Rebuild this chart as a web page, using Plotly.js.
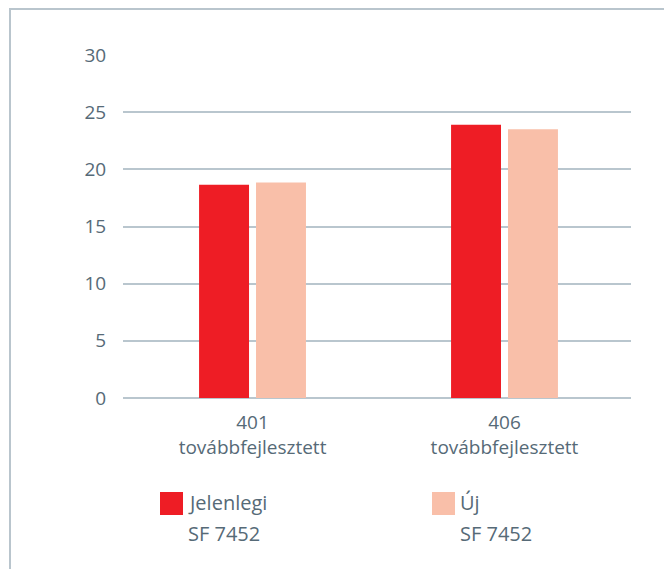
<!DOCTYPE html>
<html>
<head>
<meta charset="utf-8">
<script src="https://cdn.plot.ly/plotly-3.0.1.min.js"></script>
<style>
html,body{margin:0;padding:0;background:#fff;}
#wrap{position:relative;width:664px;height:569px;}
#chart{position:absolute;left:0;top:0;width:664px;height:569px;}
#frame{position:absolute;left:9px;top:8px;width:660px;height:570px;border-top:2px solid #b9c5cd;border-left:2px solid #b9c5cd;pointer-events:none;}
</style>
</head>
<body>
<div id="wrap"><div id="chart"></div><div id="frame"></div></div>
<script>
var categories = ["401<br>továbbfejlesztett", "406<br>továbbfejlesztett"];
var seriesLine1 = ["Jelenlegi", "Új"];
var seriesLine2 = ["SF 7452", "SF 7452"];
var jelenlegi = [18.65, 23.9];
var uj = [18.85, 23.5];
var yTicks = [0, 5, 10, 15, 20, 25, 30];
var colors = ["#ee1d25", "#f9bfa9"];

var textColor = "#566a77";
var gridColor = "#b9c6ce";
var fontFam = "'Open Sans', 'Noto Sans', sans-serif";

var traces = [
  {type: "bar", x: categories, y: jelenlegi, name: seriesLine1[0] + " " + seriesLine2[0], marker: {color: colors[0]}, hoverinfo: "none"},
  {type: "bar", x: categories, y: uj, name: seriesLine1[1] + " " + seriesLine2[1], marker: {color: colors[1]}, hoverinfo: "none"}
];

var legX = [0.0728, 0.6083];
var shapes = [], annotations = [];
for (var i = 0; i < 2; i++) {
  shapes.push({type: "rect", xref: "paper", yref: "paper", x0: legX[i], x1: legX[i] + 0.0453, y0: -0.3411, y1: -0.274, fillcolor: colors[i], line: {width: 0}});
  annotations.push({xref: "paper", yref: "paper", x: legX[i] + 0.0505, y: -0.306, xanchor: "left", yanchor: "middle", align: "left", showarrow: false, text: seriesLine1[i], font: {family: fontFam, size: 20, color: textColor}});
  annotations.push({xref: "paper", yref: "paper", x: legX[i] + 0.0505, y: -0.3936, xanchor: "left", yanchor: "middle", align: "left", showarrow: false, text: seriesLine2[i], font: {family: fontFam, size: 20, color: textColor}});
}

var layout = {
  width: 664, height: 569,
  margin: {l: 123, r: 33, t: 55, b: 171},
  paper_bgcolor: "rgba(0,0,0,0)", plot_bgcolor: "rgba(0,0,0,0)",
  showlegend: false,
  barmode: "group",
  bargap: 0.548,
  bargroupgap: 0.123,
  font: {family: fontFam, size: 19, color: textColor},
  xaxis: {type: "category", range: [-0.514, 1.502], showgrid: false, zeroline: false, showline: false,
          ticks: "outside", ticklen: 7, tickcolor: "rgba(0,0,0,0)", tickfont: {family: fontFam, size: 19, color: textColor}},
  yaxis: {range: [0, 30], tickvals: yTicks, ticktext: yTicks.map(String), showgrid: true, gridcolor: gridColor, gridwidth: 2,
          zeroline: true, zerolinecolor: gridColor, zerolinewidth: 2, showline: false,
          ticks: "outside", ticklen: 12, tickcolor: "rgba(0,0,0,0)", tickfont: {family: fontFam, size: 19, color: textColor}},
  shapes: shapes,
  annotations: annotations
};

Plotly.newPlot("chart", traces, layout, {displayModeBar: false, staticPlot: true});
</script>
</body>
</html>
